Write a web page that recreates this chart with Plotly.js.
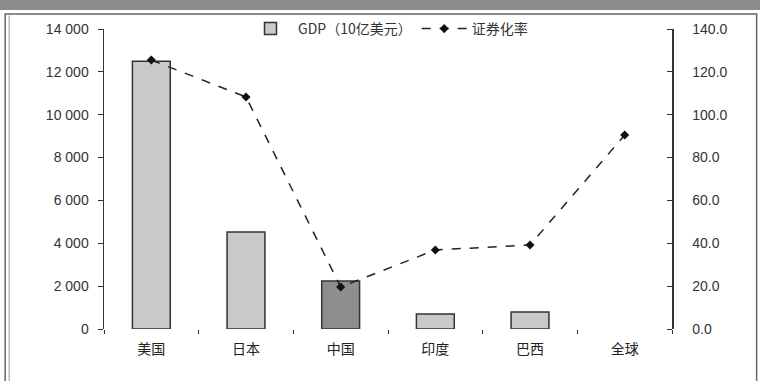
<!DOCTYPE html>
<html>
<head>
<meta charset="utf-8">
<script src="https://cdn.plot.ly/plotly-3.0.1.min.js"></script>
<style>html,body{margin:0;padding:0;background:#fff;}#chart{width:760px;height:381px;}</style>
</head>
<body>
<div id="chart"></div>
<script>
const categories = ['美国', '日本', '中国', '印度', '巴西', '全球'];
const gdpValues = [12500, 4530, 2240, 700, 790, null];
const securitizationRate = [125.5, 108.3, 19.6, 36.9, 39.2, 90.5];
const gdpName = 'GDP（10亿美元）';
const rateName = '证券化率';
const leftTicks = [0, 2000, 4000, 6000, 8000, 10000, 12000, 14000];
const rightTicks = [0, 20, 40, 60, 80, 100, 120, 140];

const barColors = categories.map(c => c === '中国' ? '#8e8e8e' : '#c9c9c9');

const traces = [
  {
    type: 'bar', x: categories, y: gdpValues, name: gdpName,
    marker: {color: barColors, line: {color: '#333', width: 1.5}},
    width: 0.4, yaxis: 'y'
  },
  {
    type: 'scatter', mode: 'lines+markers', x: categories, y: securitizationRate, name: rateName,
    line: {color: '#222', width: 1.5, dash: 'dash'},
    marker: {symbol: 'diamond', size: 7, color: '#111'},
    yaxis: 'y2'
  },
  {
    type: 'scatter', mode: 'markers', x: categories, y: securitizationRate,
    marker: {opacity: 0}, showlegend: false, hoverinfo: 'skip', yaxis: 'y3'
  }
];

const fontFam = '"Liberation Sans", "Noto Sans CJK SC", Arial, sans-serif';
const layout = {
  width: 760, height: 381,
  margin: {l: 104, r: 88, t: 29, b: 52},
  paper_bgcolor: '#fff', plot_bgcolor: '#fff',
  separators: '. ',
  font: {family: fontFam, size: 14, color: '#333'},
  showlegend: true,
  legend: {orientation: 'h', x: 0.5, y: 1.0, xanchor: 'center', yanchor: 'middle',
    itemwidth: 45, tracegroupgap: 10,
    font: {family: '"Noto Sans CJK SC", "Liberation Sans", sans-serif', size: 14, color: '#333'},
    bgcolor: 'rgba(0,0,0,0)'},
  bargap: 0.6,
  xaxis: {
    type: 'category', showline: false, showgrid: false, zeroline: false,
    ticks: 'outside', tickson: 'boundaries', ticklen: 4, tickcolor: '#333',
    ticklabelstandoff: 10,
    tickfont: {family: '"Noto Sans CJK SC", sans-serif', size: 14, color: '#222'}
  },
  yaxis: {
    range: [0, 14000], tickvals: leftTicks, tickformat: ',d',
    showline: true, linecolor: '#333', linewidth: 1.5,
    ticks: 'outside', ticklen: 5, tickcolor: '#333', ticklabelstandoff: 6,
    showgrid: false, zeroline: false, fixedrange: true
  },
  yaxis2: {
    range: [0, 140], tickvals: rightTicks, tickformat: '.1f',
    overlaying: 'y', side: 'right', anchor: 'x',
    showline: true, linecolor: '#333', linewidth: 1.5,
    ticks: '', ticklabelstandoff: 16,
    showgrid: false, zeroline: false
  },
  yaxis3: {
    range: [0, 140], tickvals: rightTicks,
    overlaying: 'y', side: 'left', anchor: 'free', position: 1,
    showline: false, showticklabels: false,
    ticks: 'outside', ticklen: 5, tickwidth: 1, tickcolor: '#333',
    showgrid: false, zeroline: false
  },
  shapes: [
    {type: 'rect', xref: 'paper', yref: 'paper', x0: -0.19, x1: 1.16, y0: 1.063, y1: 1.10,
     fillcolor: '#8c8c8c', line: {width: 0}, layer: 'below'},
    {type: 'rect', xref: 'paper', yref: 'paper', x0: -0.174, x1: 1.149, y0: -0.3, y1: 1.05,
     fillcolor: 'rgba(0,0,0,0)', line: {color: '#666', width: 1.5}, layer: 'below'},
    {type: 'line', xref: 'paper', yref: 'paper', x0: -0.167, x1: -0.167, y0: -0.3, y1: 1.045,
     line: {color: '#999', width: 1}, layer: 'below'}
  ]
};

Plotly.newPlot('chart', traces, layout, {displayModeBar: false, staticPlot: true});
</script>
</body>
</html>
